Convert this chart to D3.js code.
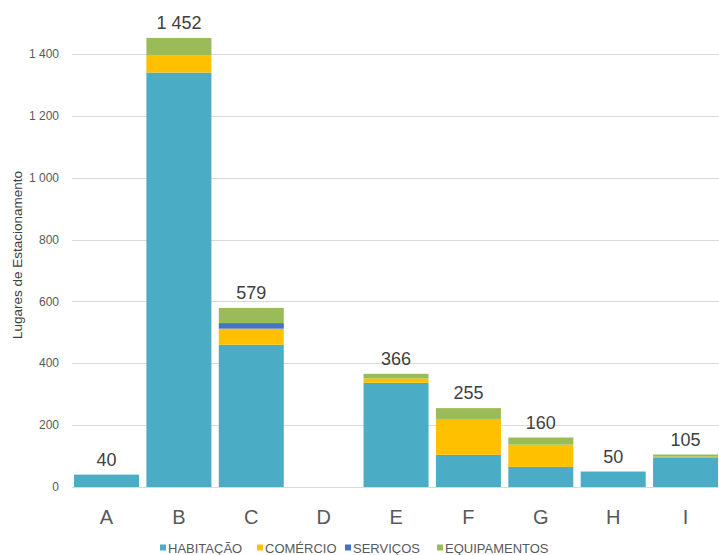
<!DOCTYPE html>
<html>
<head>
<meta charset="utf-8">
<script src="https://cdn.jsdelivr.net/npm/d3@7"></script>
<style>
  html, body { margin: 0; padding: 0; background: #fff; }
  svg { display: block; font-family: "Liberation Sans", Arial, sans-serif; }
</style>
</head>
<body>
<svg id="chart" width="719" height="555"></svg>
<script>
// Parking spaces per zone, split by land use
const categories = ["A", "B", "C", "D", "E", "F", "G", "H", "I"];
const seriesNames = ["HABITAÇÃO", "COMÉRCIO", "SERVIÇOS", "EQUIPAMENTOS"];
const habitacao    = [40, 1340, 460, 0, 337, 104,  65, 50, 96];
const comercio     = [ 0,   55,  52, 0,  14, 116,  72,  0,  2];
const servicos     = [ 0,    0,  18, 0,   0,   0,   0,  0,  0];
const equipamentos = [ 0,   57,  49, 0,  15,  35,  23,  0,  7];
const totals       = [40, 1452, 579, null, 366, 255, 160, 50, 105];
const yTicks = [0, 200, 400, 600, 800, 1000, 1200, 1400];
const colors = ["#4BACC6", "#FFC000", "#4472C4", "#9BBB59"];

const rows = categories.map((c, i) => ({
  cat: c,
  "HABITAÇÃO": habitacao[i],
  "COMÉRCIO": comercio[i],
  "SERVIÇOS": servicos[i],
  "EQUIPAMENTOS": equipamentos[i],
  total: totals[i]
}));

const svg = d3.select("#chart");
const x = d3.scaleBand().domain(categories).range([70.4, 721.7]).paddingInner(0.102).paddingOuter(0.05);
const y = d3.scaleLinear().domain([0, 1400]).range([487, 54]);

// horizontal gridlines
svg.append("g").selectAll("line").data(yTicks).join("line")
  .attr("x1", 72).attr("x2", 719)
  .attr("y1", d => Math.round(y(d)) + 0.5).attr("y2", d => Math.round(y(d)) + 0.5)
  .attr("stroke", "#d9d9d9").attr("stroke-width", 1);

// y tick labels
const fmt = d => d3.format(",")(d).replace(/,/g, " ");
svg.append("g").selectAll("text").data(yTicks).join("text")
  .attr("x", 59).attr("y", d => y(d))
  .attr("dy", "0.35em").attr("text-anchor", "end")
  .attr("font-size", 12).attr("fill", "#595959")
  .text(fmt);

// stacked bars
const stack = d3.stack().keys(seriesNames)(rows);
svg.append("g").selectAll("g").data(stack).join("g")
  .attr("fill", (d, i) => colors[i])
  .selectAll("rect").data(d => d).join("rect")
  .attr("x", d => x(d.data.cat))
  .attr("width", x.bandwidth())
  .attr("y", d => y(d[1]))
  .attr("height", d => y(d[0]) - y(d[1]));

// total labels
svg.append("g").selectAll("text").data(rows.filter(r => r.total != null)).join("text")
  .attr("x", d => x(d.cat) + x.bandwidth() / 2)
  .attr("y", d => y(d.total) - 9)
  .attr("text-anchor", "middle")
  .attr("font-size", 18).attr("fill", "#404040")
  .text(d => fmt(d.total));

// category labels
svg.append("g").selectAll("text").data(categories).join("text")
  .attr("x", d => x(d) + x.bandwidth() / 2)
  .attr("y", 524)
  .attr("text-anchor", "middle")
  .attr("font-size", 20).attr("fill", "#595959")
  .text(d => d);

// y axis title
svg.append("text")
  .attr("transform", "translate(22,255) rotate(-90)")
  .attr("text-anchor", "middle")
  .attr("font-size", 13.5).attr("fill", "#404040")
  .text("Lugares de Estacionamento");

// legend
const legendX = [160, 257, 345, 437];
const legend = svg.append("g").selectAll("g").data(seriesNames).join("g")
  .attr("transform", (d, i) => `translate(${legendX[i]},548)`);
legend.append("rect").attr("x", 0).attr("y", -3.5).attr("width", 6).attr("height", 6)
  .attr("fill", (d, i) => colors[i]);
legend.append("text").attr("x", 8).attr("y", 0).attr("dy", "0.35em")
  .attr("font-size", 13).attr("fill", "#595959").text(d => d);
</script>
</body>
</html>
